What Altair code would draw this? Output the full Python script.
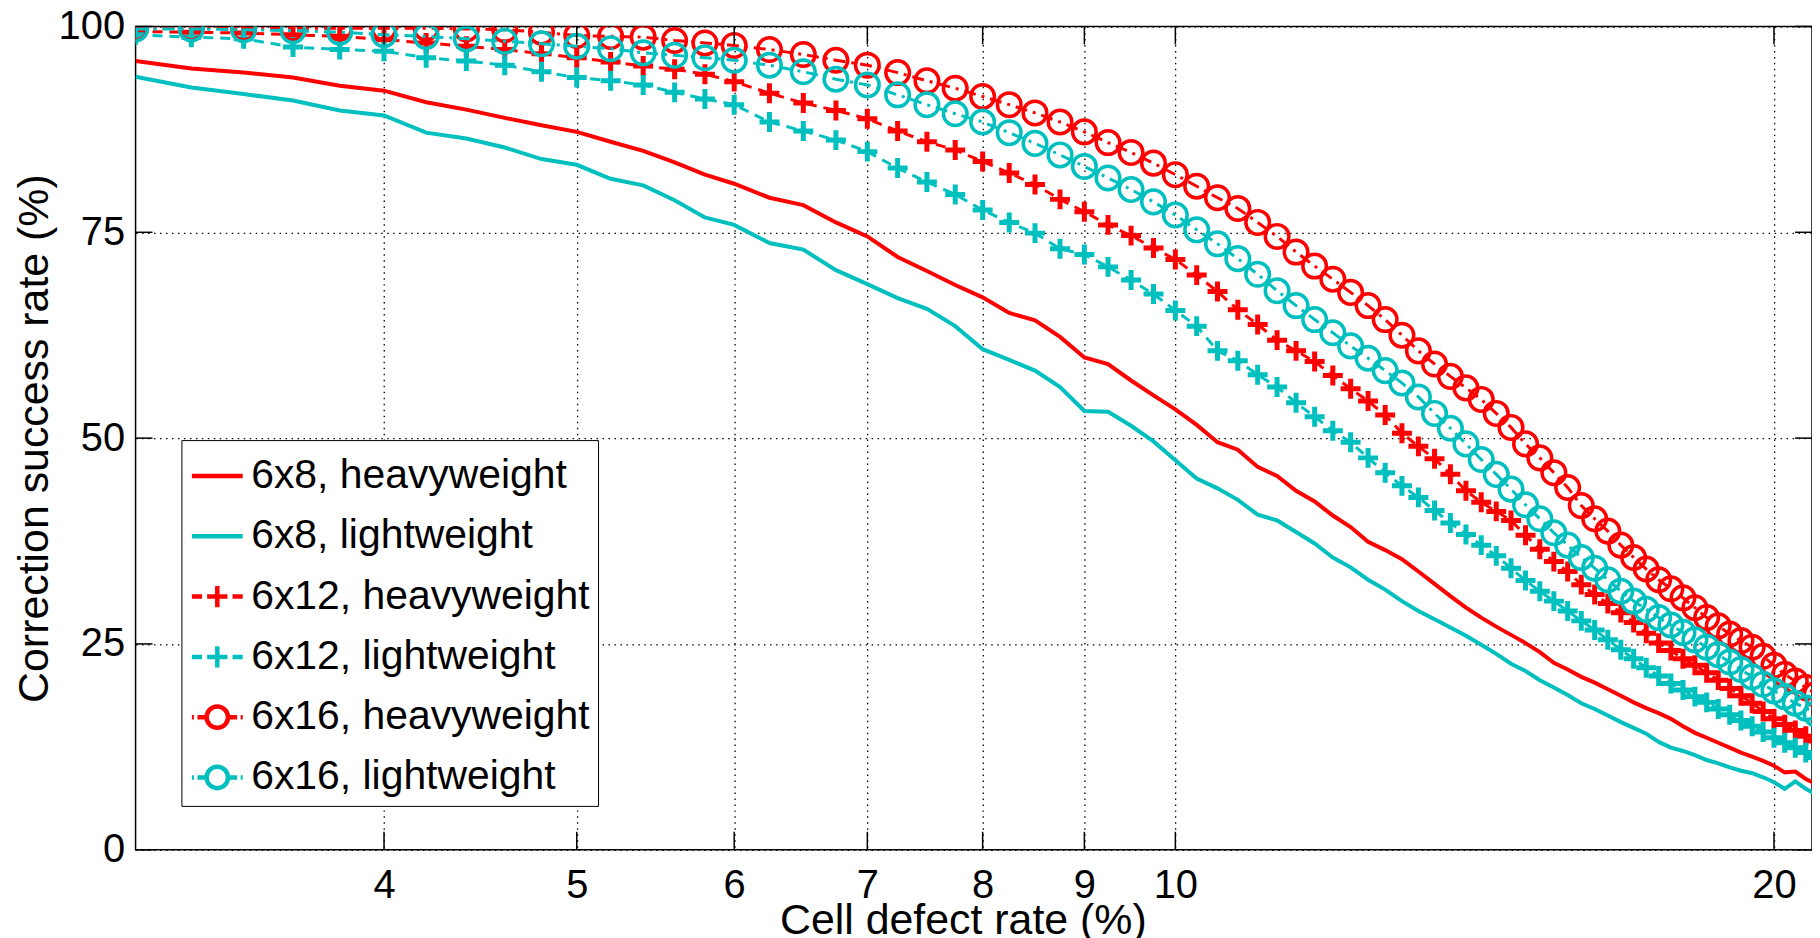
import altair as alt
import pandas as pd

# ---------------- data ----------------
X = [3.0, 3.2, 3.4, 3.6, 3.8, 4.0, 4.2, 4.4, 4.6, 4.8, 5.0, 5.2, 5.4, 5.6, 5.8, 6.0,
     6.25, 6.5, 6.75, 7.0, 7.25, 7.5, 7.75, 8.0, 8.25, 8.5, 8.75, 9.0, 9.25, 9.5, 9.75, 10.0,
     10.25, 10.5, 10.75, 11.0, 11.25, 11.5, 11.75, 12.0, 12.25, 12.5, 12.75, 13.0, 13.25, 13.5, 13.75, 14.0,
     14.25, 14.5, 14.75, 15.0, 15.25, 15.5, 15.75, 16.0, 16.25, 16.5, 16.75, 17.0, 17.25, 17.5, 17.75, 18.0,
     18.25, 18.5, 18.75, 19.0, 19.25, 19.5, 19.75, 20.0, 20.25, 20.5, 20.75, 21.0]

H8 = [95.8, 94.9, 94.4, 93.8, 92.8, 92.2, 90.8, 89.9, 88.9, 88.0, 87.2, 86.0, 84.9, 83.5, 82.0, 80.9,
      79.2, 78.3, 76.2, 74.5, 72.0, 70.3, 68.6, 67.1, 65.2, 64.3, 62.3, 59.8, 59.0, 57.0, 55.2, 53.5,
      51.6, 49.5, 48.6, 46.5, 45.4, 43.6, 42.3, 40.6, 39.2, 37.4, 36.4, 35.3, 33.8, 32.3, 30.8, 29.4,
      28.2, 27.1, 26.1, 25.1, 24.0, 22.7, 21.9, 21.0, 20.3, 19.5, 18.7, 17.9, 17.2, 16.6, 15.9, 15.0,
      14.2, 13.6, 13.0, 12.4, 11.8, 11.3, 10.8, 10.2, 9.4, 9.5, 8.6, 8.0]

L8 = [93.9, 92.6, 91.8, 91.0, 89.8, 89.2, 87.1, 86.4, 85.3, 83.9, 83.2, 81.5, 80.7, 78.9, 76.8, 75.9,
      73.7, 72.9, 70.4, 68.7, 67.0, 65.7, 63.6, 60.8, 59.5, 58.2, 56.2, 53.3, 53.2, 51.5, 49.6, 47.3,
      45.1, 43.9, 42.5, 40.7, 40.0, 38.6, 37.2, 35.5, 34.3, 32.8, 31.6, 30.2, 29.0, 28.0, 27.0, 26.0,
      24.9, 23.8, 22.6, 21.7, 20.6, 19.7, 18.8, 17.8, 17.1, 16.3, 15.5, 14.8, 14.1, 13.1, 12.4, 12.0,
      11.5, 10.9, 10.5, 10.0, 9.6, 9.3, 8.8, 8.2, 7.4, 8.3, 7.4, 6.7]

H12 = [99.4, 99.3, 99.2, 99.0, 98.8, 98.4, 98.0, 97.6, 97.2, 96.7, 96.2, 95.7, 95.2, 94.8, 94.2, 93.3,
       91.9, 90.7, 89.8, 88.8, 87.3, 86.0, 85.0, 83.6, 82.2, 80.8, 79.0, 77.5, 75.9, 74.6, 73.1, 71.7,
       69.8, 67.8, 65.6, 63.8, 61.9, 60.6, 59.3, 57.6, 56.0, 54.5, 52.8, 50.6, 49.0, 47.5, 45.6, 43.6,
       42.2, 41.1, 40.0, 38.2, 36.5, 35.0, 33.8, 32.2, 31.0, 29.9, 28.8, 27.6, 26.3, 25.1, 24.2, 23.2,
       22.4, 21.5, 20.6, 19.6, 18.7, 17.8, 16.8, 15.9, 15.2, 14.5, 13.8, 13.2]

L12 = [99.0, 98.7, 98.5, 97.5, 97.2, 97.0, 96.2, 95.8, 95.3, 94.5, 93.8, 93.4, 92.9, 92.0, 91.2, 90.5,
       88.4, 87.3, 86.2, 84.8, 82.8, 81.1, 79.6, 77.7, 76.2, 74.9, 73.0, 72.3, 70.8, 69.2, 67.5, 65.5,
       63.6, 60.6, 59.4, 57.7, 56.2, 54.3, 52.6, 50.9, 49.5, 47.6, 45.8, 44.2, 42.8, 41.2, 39.7, 38.3,
       37.0, 35.7, 34.2, 32.7, 31.4, 30.2, 29.0, 27.8, 26.7, 25.5, 24.3, 23.2, 22.1, 21.1, 20.2, 19.4,
       18.6, 17.9, 17.1, 16.4, 15.7, 15.0, 14.3, 13.6, 13.0, 12.4, 11.8, 11.2]

H16 = [99.8, 99.8, 99.8, 99.8, 99.8, 99.8, 99.8, 99.7, 99.6, 99.3, 98.9, 98.8, 98.7, 98.3, 98.0, 97.7,
       97.2, 96.6, 95.9, 95.3, 94.4, 93.4, 92.5, 91.5, 90.5, 89.5, 88.4, 87.2, 85.9, 84.7, 83.4, 82.0,
       80.6, 79.2, 77.9, 76.2, 74.5, 72.6, 70.9, 69.3, 67.7, 66.1, 64.4, 62.5, 60.6, 59.0, 57.5, 56.1,
       54.7, 53.0, 51.3, 49.3, 47.6, 45.8, 44.0, 41.8, 40.2, 38.7, 37.0, 35.5, 34.1, 32.8, 31.7, 30.6,
       29.4, 28.2, 27.2, 26.2, 25.4, 24.6, 23.5, 22.4, 21.3, 20.5, 19.7, 18.9]

L16 = [99.7, 99.7, 99.6, 99.5, 99.3, 99.0, 98.8, 98.5, 98.2, 97.9, 97.6, 97.3, 96.8, 96.5, 96.2, 95.9,
       95.3, 94.5, 93.6, 92.9, 91.7, 90.5, 89.4, 88.4, 87.1, 85.8, 84.4, 83.0, 81.6, 80.2, 78.7, 77.1,
       75.3, 73.6, 71.8, 69.9, 67.9, 66.1, 64.4, 62.8, 61.2, 59.7, 58.2, 56.7, 55.0, 53.0, 51.2, 49.3,
       47.4, 45.6, 43.8, 41.9, 40.2, 38.5, 37.0, 35.5, 34.2, 32.8, 31.4, 30.2, 29.2, 28.2, 27.3, 26.4,
       25.5, 24.6, 23.7, 22.8, 21.9, 21.0, 20.1, 19.3, 18.6, 17.8, 17.2, 16.5]

SERIES = ["6x8, heavyweight", "6x8, lightweight", "6x12, heavyweight",
          "6x12, lightweight", "6x16, heavyweight", "6x16, lightweight"]
COLORS = ["#FF0000", "#00BFBF", "#FF0000", "#00BFBF", "#FF0000", "#00BFBF"]
MARKERS = ["none", "none", "plus", "plus", "circle", "circle"]
XTICKS = [4, 5, 6, 7, 8, 9, 10, 20]
YTICKS = [0, 25, 50, 75, 100]

# ---------------- styling ----------------
FONT = "Liberation Sans"
W, H = 1682, 826
PLUS = "M-1,0H1M0,-1V1"
LEG_SHAPES = [
    "M-1,0H1",
    "M-1,0H1",
    "M-1,0H-0.6M0.6,0H1M-0.4,0H0.4M0,-0.42V0.42",
    "M-1,0H-0.6M0.6,0H1M-0.4,0H0.4M0,-0.42V0.42",
    "M-1,0H-0.92M-0.78,0H-0.44M0.44,0H0.78M0.92,0H1M-0.42,0A0.42,0.42,0,1,1,0.42,0A0.42,0.42,0,1,1,-0.42,0",
    "M-1,0H-0.92M-0.78,0H-0.44M0.44,0H0.78M0.92,0H1M-0.42,0A0.42,0.42,0,1,1,0.42,0A0.42,0.42,0,1,1,-0.42,0",
]

rows = []
for name, ys in zip(SERIES, [H8, L8, H12, L12, H16, L16]):
    for xv, yv in zip(X, ys):
        rows.append({"series": name, "x": xv, "y": yv})
df = pd.DataFrame(rows)

xscale = alt.Scale(type="log", domain=[3, 20.9], nice=False)
yscale = alt.Scale(domain=[0, 100], nice=False)

x_axis = alt.Axis(values=XTICKS, format="d", grid=True, gridColor="#000", gridDash=[1.5, 4.5],
                  gridWidth=1.3, ticks=False, tickSize=0, domain=False,
                  labelFont=FONT, labelFontSize=40, labelColor="#000", labelPadding=16,
                  labelFlush=False, labelOverlap=False,
                  titleFont=FONT, titleFontSize=43, titleFontWeight="normal", titleColor="#000",
                  titleY=84, titleBaseline="alphabetic", titleX=830, titleAlign="center")
y_axis = alt.Axis(values=YTICKS, grid=True, gridColor="#000", gridDash=[1.5, 4.5],
                  gridWidth=1.3, ticks=False, tickSize=0, domain=False,
                  labelFont=FONT, labelFontSize=40, labelColor="#000", labelPadding=11,
                  labelFlush=False, labelOverlap=False,
                  titleFont=FONT, titleFontSize=43, titleFontWeight="normal", titleColor="#000",
                  titleX=-88, titleY=H / 2, titleAngle=270, titleBaseline="alphabetic",
                  titleAlign="center")


def xe():
    return alt.X("x:Q", scale=xscale, axis=x_axis, title="Cell defect rate (%)")


def ye():
    return alt.Y("y:Q", scale=yscale, axis=y_axis, title="Correction success rate (%)")


layers = []
for name, col, mk in zip(SERIES, COLORS, MARKERS):
    sub = df[df.series == name]
    if mk == "none":
        line = alt.Chart(sub).mark_line(color=col, strokeWidth=4, clip=True)
    elif mk == "plus":
        line = alt.Chart(sub).mark_line(color=col, strokeWidth=3, strokeDash=[10, 7], clip=True)
    else:
        line = alt.Chart(sub).mark_line(color=col, strokeWidth=3, strokeDash=[12, 6, 3, 6], clip=True)
    layers.append(line.encode(x=xe(), y=ye()))
    if mk == "plus":
        pts = alt.Chart(sub).mark_point(shape=PLUS, size=400, strokeWidth=5, filled=False,
                                        opacity=1, color=col, clip=True)
        layers.append(pts.encode(x=xe(), y=ye()))
    elif mk == "circle":
        pts = alt.Chart(sub).mark_point(shape="circle", size=560, strokeWidth=3.5, filled=False,
                                        opacity=1, color=col, clip=True)
        layers.append(pts.encode(x=xe(), y=ye()))

# inward ticks on all four sides
xt = pd.DataFrame({"x": XTICKS})
yt = pd.DataFrame({"y": YTICKS})
tick_style = dict(color="#000", strokeWidth=1.5)
layers.append(alt.Chart(xt).mark_rule(**tick_style).encode(
    x=xe(), y=alt.value(H), y2=alt.value(H - 18)))
layers.append(alt.Chart(xt).mark_rule(**tick_style).encode(
    x=xe(), y=alt.value(0), y2=alt.value(18)))
layers.append(alt.Chart(yt).mark_rule(**tick_style).encode(
    y=ye(), x=alt.value(0), x2=alt.value(17)))
layers.append(alt.Chart(yt).mark_rule(**tick_style).encode(
    y=ye(), x=alt.value(W - 17), x2=alt.value(W)))

# legend (scale-driven, no marks drawn)
LEG = alt.Legend(orient="none", legendX=46, legendY=415, title=None,
                 labelFont=FONT, labelFontSize=41, labelColor="#000", labelLimit=1000,
                 labelOffset=6, symbolSize=2601, symbolStrokeWidth=4.5, symbolOpacity=1,
                 rowPadding=12.5, padding=8, strokeColor="#000", fillColor="#fff",
                 cornerRadius=0)
legend_layer = alt.Chart(df).mark_point(filled=False, opacity=1, strokeWidth=4.5, size=2601).encode(
    x=xe(), y=ye(),
    color=alt.Color("series:N", scale=alt.Scale(domain=SERIES, range=COLORS), legend=LEG),
    shape=alt.Shape("series:N", scale=alt.Scale(domain=SERIES, range=LEG_SHAPES), legend=LEG),
).transform_filter("false")
layers.append(legend_layer)

chart = alt.layer(*layers).properties(
    width=W, height=H,
    padding={"left": 128, "top": 17, "right": 0, "bottom": 87},
    autosize=alt.AutoSizeParams(type="none"),
).configure_view(stroke="#000", strokeWidth=1.5)

chart.save("out.html", embed_options={"renderer": "svg", "actions": False})
